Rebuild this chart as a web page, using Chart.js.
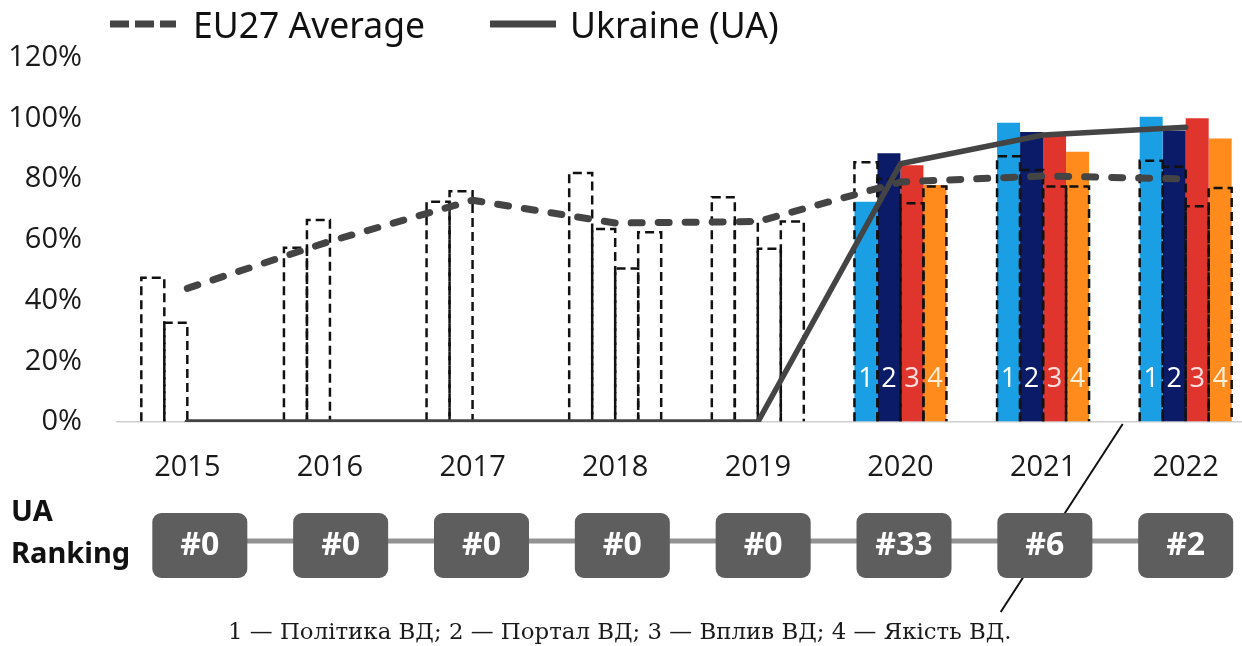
<!DOCTYPE html>
<html><head><meta charset="utf-8">
<script src="https://cdn.jsdelivr.net/npm/chart.js@4.4.1/dist/chart.umd.min.js"></script>
<style>
html,body{margin:0;padding:0;background:#fff;overflow:hidden;width:1242px;height:646px}
#wrap{position:relative;width:1257px;height:646px}
</style></head>
<body><div id="wrap"><canvas id="c" width="1257" height="646"></canvas></div>
<script>
// ---- data ----
const years = ['2015','2016','2017','2018','2019','2020','2021','2022'];
const uaPolicy  = [null,null,null,null,null,72.5,98.5,100.5];
const uaPortal  = [null,null,null,null,null,88.5,95.5,96];
const uaImpact  = [null,null,null,null,null,84.5,94.5,100];
const uaQuality = [null,null,null,null,null,78,89,93.3];
const euPolicy  = [47.5,57.4,72.5,82,74,85.5,87.5,86];
const euPortal  = [32.7,66.5,76,63.5,66,80,83,84];
const euImpact  = [null,null,null,50.5,57,72,77.5,71];
const euQuality = [null,null,null,62.5,66,77.5,77.5,77];
const eu27Average = [44,59.5,73,65.5,66,79,81,80];
const ukraine     = [0,0,0,0,0,85,94.5,97];
const uaRanking = ['#0','#0','#0','#0','#0','#33','#6','#2'];
const dimNumbers = ['1','2','3','4'];
const dimNames = ['Політика ВД','Портал ВД','Вплив ВД','Якість ВД'];
const yTickValues = [0,20,40,60,80,100,120];
const legendNames = ['EU27 Average','Ukraine (UA)'];
const rankingTitle = ['UA','Ranking'];

// ---- styles ----
const barColors = ['#1a9fe4','#0b1b68','#e0352d','#ff8b1d'];
const numColors = ['#ffffff','#ffffff','#fbe0e0','#fff0da'];
const lineGray = '#444444';
const uaSeries = [uaPolicy,uaPortal,uaImpact,uaQuality];
const euSeries = [euPolicy,euPortal,euImpact,euQuality];

const datasets = [];
uaSeries.forEach((d,i)=>datasets.push({
  type:'bar', label:dimNames[i], data:d, stack:'dim'+i, order:3,
  backgroundColor:barColors[i], borderWidth:0,
  barPercentage:1, categoryPercentage:0.645,
  barNumber:dimNumbers[i], numberColor:numColors[i]
}));
euSeries.forEach((d,i)=>datasets.push({
  type:'bar', label:'EU '+dimNames[i], data:d, stack:'dim'+i, order:2,
  backgroundColor:'rgba(0,0,0,0)', borderWidth:0,
  barPercentage:1, categoryPercentage:0.645,
  outlineDash:[9,5], outlineColor:'#111111', outlineWidth:2.5
}));
datasets.push({
  type:'line', label:legendNames[0], data:eu27Average, order:1,
  borderColor:lineGray, borderWidth:7, borderDash:[11,16], borderCapStyle:'round',
  borderJoinStyle:'round', pointRadius:0, tension:0, fill:false, legendDash:[19,6]
});
datasets.push({
  type:'line', label:legendNames[1], data:ukraine, order:0,
  borderColor:lineGray, borderWidth:5.5, borderCapStyle:'round',
  borderJoinStyle:'round', pointRadius:0, tension:0, fill:false, legendDash:[]
});

// dashed outlines for EU bars (drawn in dataset order)
const dashedOutline = {
  id:'dashedOutline',
  afterDatasetDraw(chart, args){
    const ds = chart.data.datasets[args.index];
    if(!ds.outlineDash) return;
    const ctx = chart.ctx;
    ctx.save();
    ctx.strokeStyle = ds.outlineColor; ctx.lineWidth = ds.outlineWidth;
    ctx.setLineDash(ds.outlineDash);
    args.meta.data.forEach((bar,i)=>{
      if(ds.data[i]==null) return;
      const p = bar.getProps(['x','y','base','width'], true);
      const l = p.x - p.width/2, r = p.x + p.width/2;
      ctx.beginPath();
      ctx.moveTo(l,p.base); ctx.lineTo(l,p.y); ctx.lineTo(r,p.y); ctx.lineTo(r,p.base);
      ctx.stroke();
    });
    ctx.restore();
  }
};

// numbers inside UA bars
const barNumbers = {
  id:'barNumbers',
  afterDatasetsDraw(chart){
    const ctx = chart.ctx;
    const ys = chart.scales.y;
    ctx.save();
    ctx.font = '27px "Open Sans"';
    ctx.textAlign = 'center'; ctx.textBaseline = 'middle';
    chart.data.datasets.forEach((ds,di)=>{
      if(!ds.barNumber) return;
      const meta = chart.getDatasetMeta(di);
      meta.data.forEach((bar,i)=>{
        if(ds.data[i]==null) return;
        ctx.fillStyle = ds.numberColor;
        ctx.fillText(ds.barNumber, bar.x, ys.getPixelForValue(0) - 43);
      });
    });
    ctx.restore();
  }
};

function roundRect(ctx,x,y,w,h,r){
  ctx.beginPath();
  ctx.moveTo(x+r,y); ctx.lineTo(x+w-r,y); ctx.arcTo(x+w,y,x+w,y+r,r);
  ctx.lineTo(x+w,y+h-r); ctx.arcTo(x+w,y+h,x+w-r,y+h,r);
  ctx.lineTo(x+r,y+h); ctx.arcTo(x,y+h,x,y+h-r,r);
  ctx.lineTo(x,y+r); ctx.arcTo(x,y,x+r,y,r); ctx.closePath();
}

// legend, ranking row, caption
const extras = {
  id:'extras',
  afterDraw(chart){
    const ctx = chart.ctx;
    const xs = chart.scales.x, ys = chart.scales.y;
    const base = ys.getPixelForValue(0);
    ctx.save();
    // legend
    const lds = chart.data.datasets.filter(d=>d.type==='line');
    const legendPos = [{x:110,tx:193},{x:490,tx:570}];
    lds.forEach((d,i)=>{
      const p = legendPos[i];
      ctx.strokeStyle = d.borderColor; ctx.lineWidth = 7; ctx.lineCap='butt';
      ctx.setLineDash(d.legendDash);
      ctx.beginPath(); ctx.moveTo(p.x,24); ctx.lineTo(p.x+66,24); ctx.stroke();
      ctx.setLineDash([]);
      ctx.fillStyle = '#111'; ctx.font = '35.5px "Noto Sans"';
      ctx.textAlign='left'; ctx.textBaseline='alphabetic';
      ctx.fillText(d.label, p.tx, 38);
    });
    // stray diagonal stroke
    const x22 = xs.getPixelForTick(7);
    ctx.strokeStyle = '#111'; ctx.lineWidth = 2;
    ctx.beginPath(); ctx.moveTo(x22-63, base+2); ctx.lineTo(x22-185, base+190); ctx.stroke();
    // ranking title
    ctx.fillStyle = '#111'; ctx.font = 'bold 29px "Noto Sans"';
    ctx.fillText(rankingTitle[0], 11, 521);
    ctx.fillText(rankingTitle[1], 11, 563);
    // ranking boxes
    const n = uaRanking.length;
    const cx = i => xs.getPixelForTick(i) + 12.5*(n-1-i)/(n-1);
    ctx.strokeStyle = '#929292'; ctx.lineWidth = 5;
    ctx.beginPath(); ctx.moveTo(cx(0),541); ctx.lineTo(cx(n-1),541); ctx.stroke();
    uaRanking.forEach((t,i)=>{
      const c = cx(i);
      ctx.fillStyle = '#5e5e5e';
      roundRect(ctx, c-47.5, 513, 95, 65, 9); ctx.fill();
      ctx.fillStyle = '#fff'; ctx.font = 'bold 32px "Noto Sans"';
      ctx.textAlign='center'; ctx.textBaseline='middle';
      ctx.fillText(t, c, 546);
    });
    // caption
    const caption = dimNumbers.map((k,i)=>k+' — '+dimNames[i]).join('; ') + '.';
    ctx.font = '20px "DejaVu Serif"';
    const w = ctx.measureText(caption).width;
    const size = 20*784/w;
    ctx.font = size.toFixed(2)+'px "DejaVu Serif"';
    ctx.fillStyle = '#1a1a1a'; ctx.textAlign='left'; ctx.textBaseline='alphabetic';
    ctx.fillText(caption, 228, 639);
    ctx.restore();
  }
};

Chart.defaults.font.family = '"Open Sans"';
Chart.defaults.color = '#1a1a1a';

new Chart(document.getElementById('c'), {
  data:{ labels:years, datasets },
  options:{
    responsive:false, animation:false, devicePixelRatio:1,
    layout:{ padding:{top:57.5, bottom:164, left:0, right:0} },
    plugins:{ legend:{display:false}, tooltip:{enabled:false} },
    scales:{
      x:{ type:'category', offset:true, grid:{display:false, drawTicks:false}, border:{display:false},
          ticks:{ font:{size:29}, color:'#1a1a1a', padding:28, maxRotation:0 },
          afterFit(s){ s.height = 60; } },
      y:{ min:0, max:120, stacked:false, border:{display:false},
          grid:{ drawTicks:false, color:c=>c.tick && c.tick.value===0 ? '#cfcfcf' : 'rgba(0,0,0,0)', lineWidth:1.5 },
          afterBuildTicks(s){ s.ticks = yTickValues.map(v=>({value:v})); },
          ticks:{ font:{size:29}, color:'#1a1a1a', padding:34, callback:v=>v+'%' },
          afterFit(s){ s.width = 116; } }
    }
  },
  plugins:[dashedOutline, barNumbers, extras]
});
</script>
</body></html>
